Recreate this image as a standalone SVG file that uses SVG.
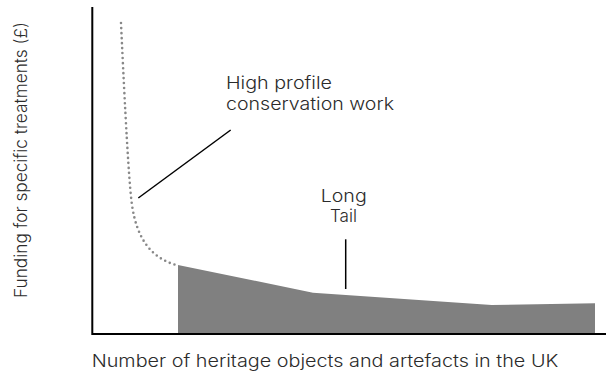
<svg xmlns="http://www.w3.org/2000/svg" width="606" height="374" viewBox="0 0 606 374">
<style>
.lbl{font-family:Inter,"Open Sans","Liberation Sans",sans-serif;font-weight:300;font-size:17px;fill:#2b2b2b}
.lead{stroke:#000;stroke-width:1.5;fill:none}
.axis{stroke:#000;stroke-width:2;fill:none}
</style>
<rect width="606" height="374" fill="#fff"/>
<g id="tail">
<path d="M178,265 L313,292.7 L491.7,305 L595,303.3 L595,334 L178,334 Z" fill="#808080"/>
</g>
<g id="head">
<path d="M121,23 C125,110 129,185 132,205 C137,240 152,258 176,265" fill="none" stroke="#888" stroke-width="2.6" stroke-linecap="round" stroke-dasharray="0 5"/>
</g>
<g id="axes">
<path class="axis" d="M92.3,7 V334 H606"/>
</g>
<g id="connectors">
<line class="lead" x1="138.3" y1="198" x2="230.7" y2="130"/>
<line class="lead" x1="345.7" y1="239.3" x2="345.7" y2="289"/>
</g>
<g id="label-high">
<text class="lbl" x="226" y="89.3" textLength="106" lengthAdjust="spacingAndGlyphs">High profile</text>
<text class="lbl" x="226" y="110" textLength="168" lengthAdjust="spacingAndGlyphs">conservation work</text>
</g>
<g id="label-long">
<text class="lbl" x="320.7" y="201.7" textLength="46" lengthAdjust="spacingAndGlyphs">Long</text>
<text class="lbl" x="330" y="221.7" textLength="27" lengthAdjust="spacingAndGlyphs">Tail</text>
</g>
<g id="x-label">
<text class="lbl" x="91.7" y="366.7" textLength="466.6" lengthAdjust="spacingAndGlyphs">Number of heritage objects and artefacts in the UK</text>
</g>
<g id="y-label">
<text class="lbl" transform="translate(27,298) rotate(-90)" x="0" y="0" textLength="276" lengthAdjust="spacingAndGlyphs">Funding for specific treatments (£)</text>
</g>
</svg>
